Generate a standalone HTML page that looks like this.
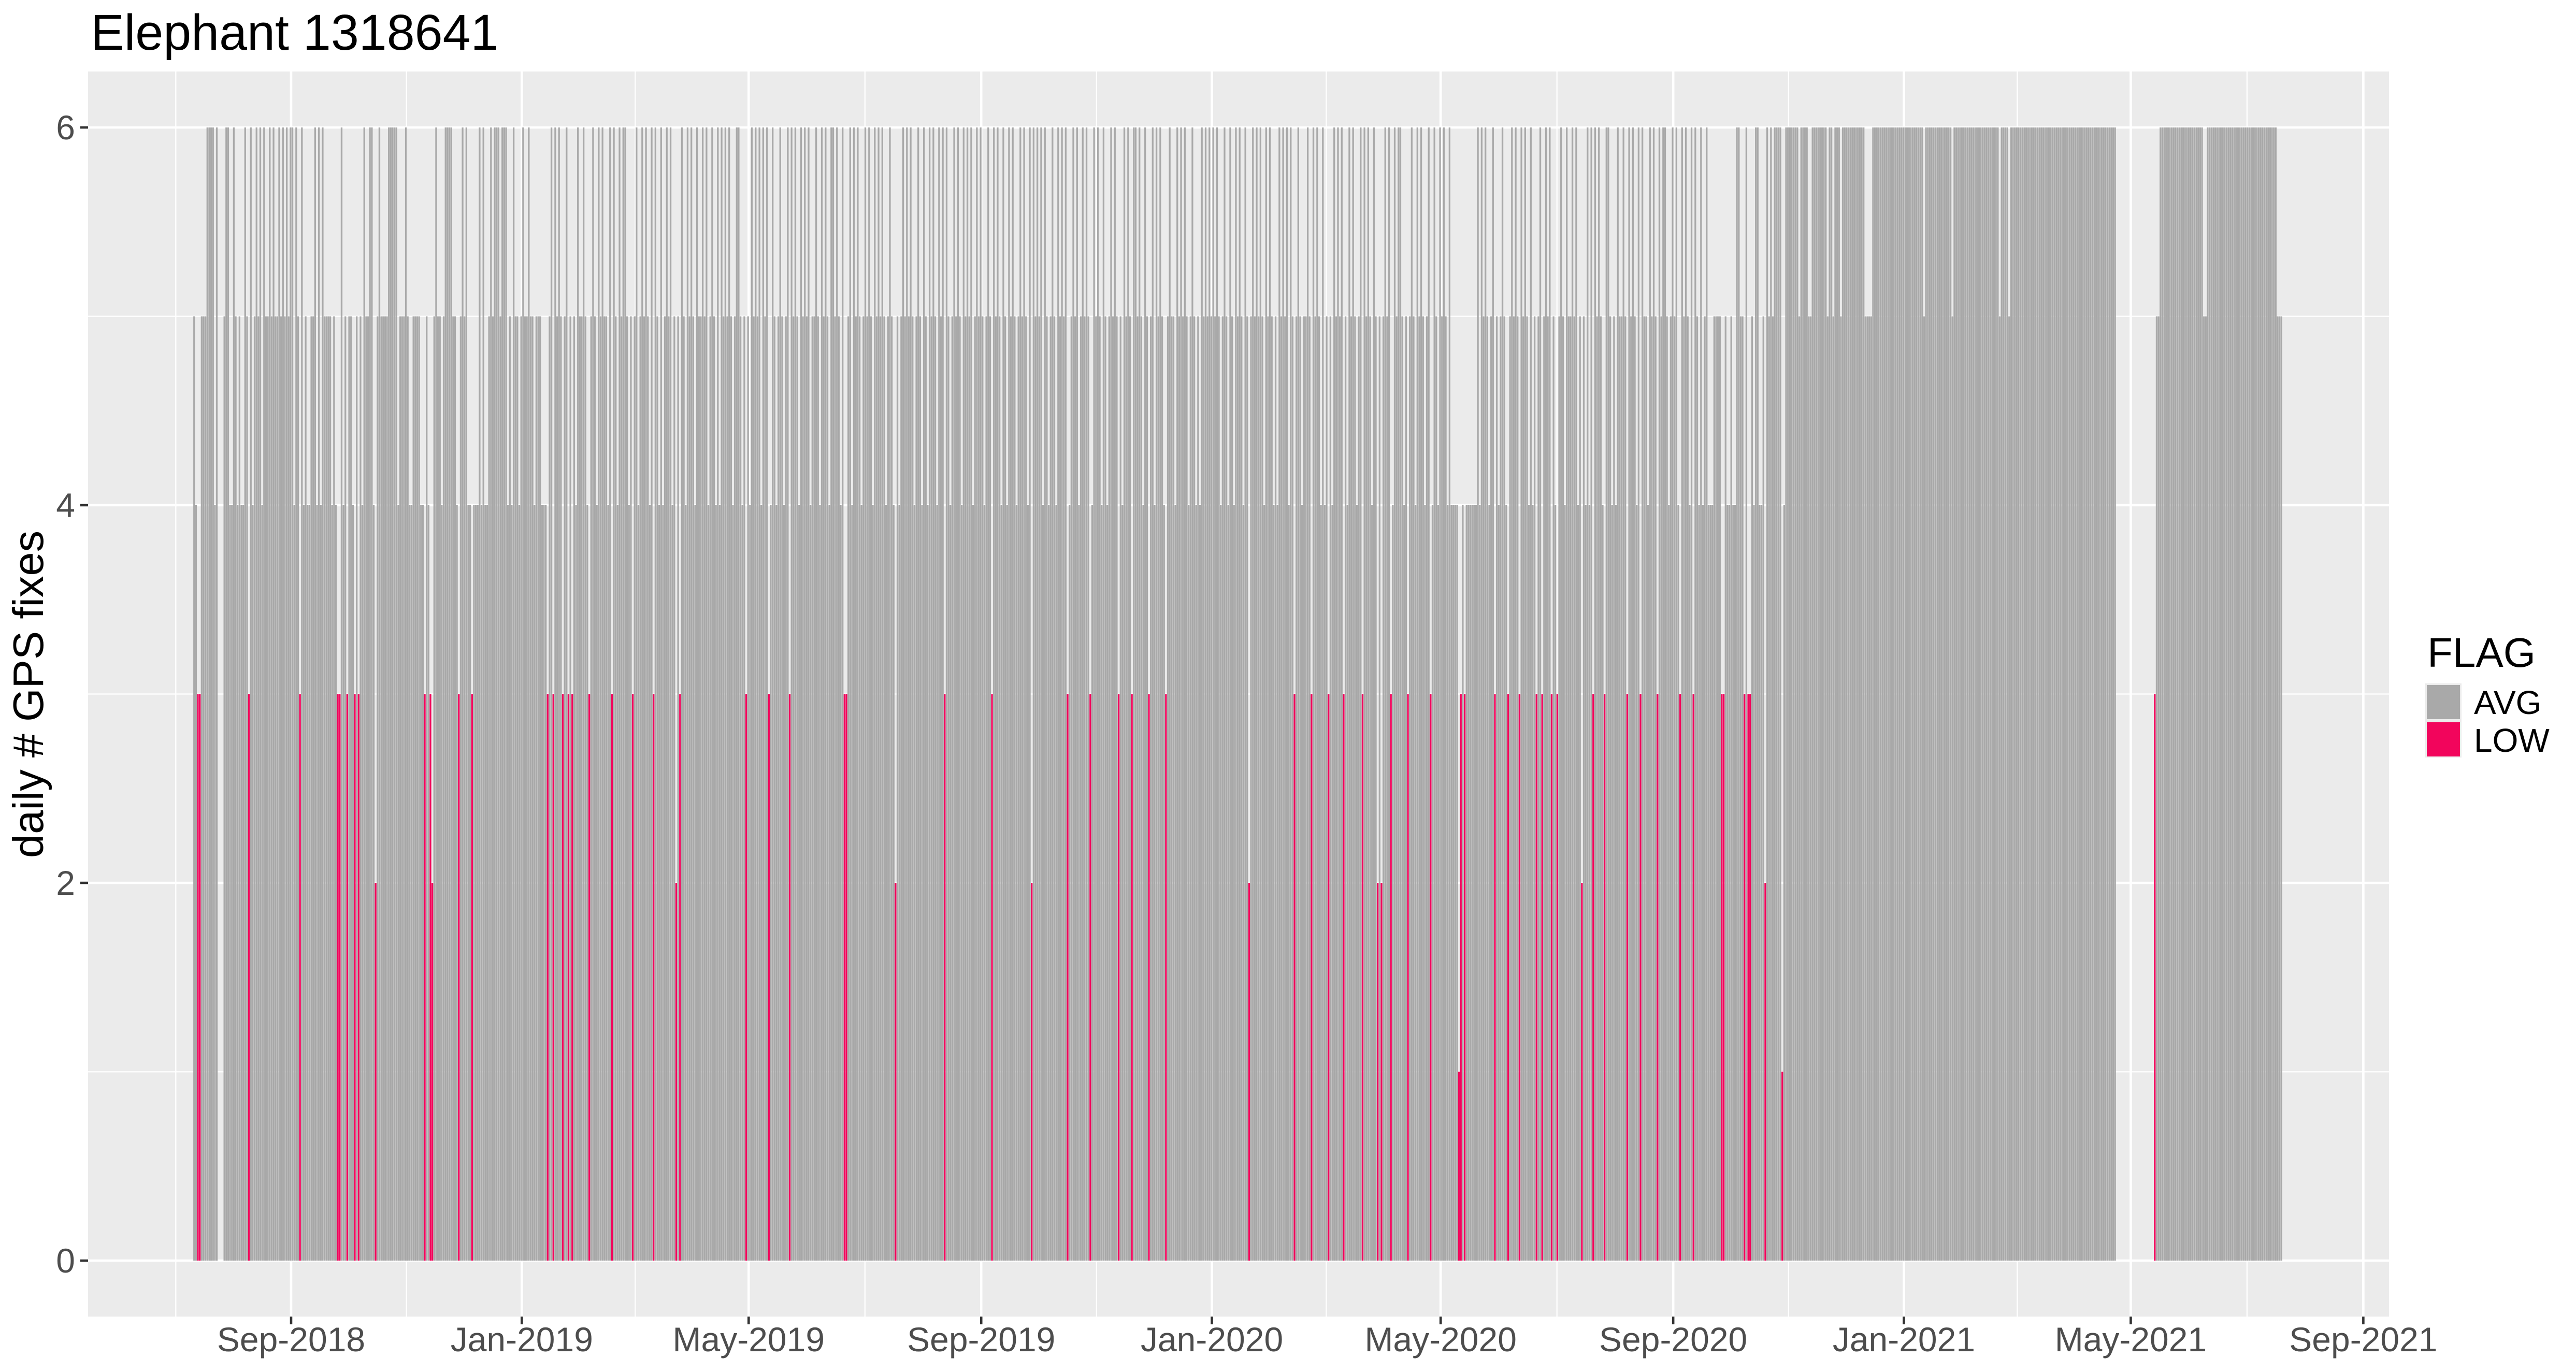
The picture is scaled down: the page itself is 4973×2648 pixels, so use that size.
<!DOCTYPE html>
<html><head><meta charset="utf-8"><title>Elephant 1318641</title>
<style>
html,body{margin:0;padding:0;background:#fff;}
svg{display:block;font-family:"Liberation Sans",Arial,sans-serif;}
</style></head>
<body>
<svg id="chart" width="4973" height="2648" viewBox="0 0 4973 2648" xmlns="http://www.w3.org/2000/svg">
  <rect x="0" y="0" width="4973" height="2648" fill="#ffffff"/>
  <text x="175" y="96" font-size="97" fill="#000">Elephant 1318641</text>
  <rect x="170" y="138" width="4442" height="2403" fill="#EBEBEB"/>
  <g id="grid"></g>
  <g id="bars"></g>
  <g id="yaxis"></g>
  <g id="xaxis"></g>
  <text transform="translate(83,1340) rotate(-90)" text-anchor="middle" font-size="83" fill="#000">daily # GPS fixes</text>
  <g>
    <text x="4686" y="1287" font-size="80" fill="#000">FLAG</text>
    <rect x="4682" y="1319" width="70" height="143" fill="#EBEBEB"/>
    <rect x="4685" y="1322" width="64" height="66" fill="#A9A9A9"/>
    <rect x="4685" y="1394" width="64" height="66" fill="#F2055C"/>
    <text x="4776" y="1378" font-size="64" fill="#000">AVG</text>
    <text x="4776" y="1451" font-size="64" fill="#000">LOW</text>
  </g>
</svg>
<script>
// ---- data (daily # GPS fixes, one digit per day, starting ~12 Jul 2018) ----
const segJul2018 = "5433555666"+"6460005664"+"4654544653"+"6456564655"+"6565565656"+"5664653645"+"4455646465"+"5554543364"+"5355435354"+"6556642565"+"5556666645"+"5565445555"+"4435432565"+"5456666554"+"3565644344"+"4646445656"+"6656664546"+"5545655655"+"45554443";
const segMid = "5646565456"+"6545465565"+"4656546565"+"5465654656"+"6545656456"+
"5654656546"+"4565645656"+"6546565465"+"5656456546"+"4656565456"+
"6545654656"+"5646565465"+"4565456565"+"6546565645"+"5654656546"+
"6565465456"+"4656545656"+"5465656545"+"6546545656"+"5654565465"+
"4656546565"+"6545656546"+"5656456565"+"4565465654"+"6546565456"+
"5654656565"+"6465456546"+"5656545656"+"4565656465"+"6546545656"+
"5654656546"+"6565465456"+"4656546565"+"5465656545"+"6545465656"+
"5656545654"+"6546565465"+"4565656546"+"5654546565"+"6465656545"+
"5654656546"+"4565465656"+"6546565456"+"5656546565"+"4565654656"+
"6545656546"+"5654565465"+"4656546444"+"4444444444"+"4646565456"+
"6545654656"+"5654656546"+"4565645656"+"6546565465"+"5656456546"+
"4656565456"+"6545465565"+"4656546565"+"5465654656"+"6545656456"+
"5654656546"+"456";
const segOct2020 = "4445555335"+"4454466553"+"6335466445"+"2656566661"+"46";
const segWinter = "6666665666"+"6556666666"+"6566566656"+"6666666666"+"6555566666"+"6666666666"+"6666666666"+"6656666666"+"6666666566"+"6666666666"+"6666666666"+"6656666566"+"6666666666"+"6666666666"+"6666666666"+"6666666666"+"6666666666"+"6666";
const segGap = "00000000000000000000";
const segMay2021 = "355"+"66666666666666666666666"+"55"+"6666666666666666666666666666666666666"+"555";
const lowIdx = [190,195,198,200,209,221,232,243,255,257,292,304,315,344,345,371,397,422,443,462,474,489,496,505,514,558,582,591,600,608,618,626,628,633,642,654,669,670,672,688,695,701,710,713,718,721,734,740,746,758,765,774,786,793];
const lowVal = [3,3,3,3,3,3,3,3,2,3,3,3,3,3,3,2,3,3,2,3,3,3,3,3,3,2,3,3,3,3,3,2,2,3,3,3,1,3,3,3,3,3,3,3,3,3,2,3,3,3,3,3,3,3];
const yTicks = [0,2,4,6];
const yMinor = [1,3,5];
const xTickLabels = ["Sep-2018","Jan-2019","May-2019","Sep-2019","Jan-2020","May-2020","Sep-2020","Jan-2021","May-2021","Sep-2021"];
const xTickDays = [0,122,242,365,487,608,731,853,973,1096]; // days since 2018-09-01
const firstDayOffset = -51.3; // first bar relative to 2018-09-01

const values = (segJul2018+segMid+segOct2020+segWinter+segGap+segMay2021).split("").map(Number);
lowIdx.forEach((d,i)=>{ values[d]=lowVal[i]; });

// ---- scales ----
const NS="http://www.w3.org/2000/svg";
const X0=562, PXDAY=3.65, PL=170, PR=4612, PT=138, PB=2541;
const Y0=2433, PXUNIT=364.5;
const xDay = d => X0 + d*PXDAY;
const xIdx = i => xDay(i + firstDayOffset);
const y = v => Y0 - v*PXUNIT;
function mk(tag, attrs, parent){ const e=document.createElementNS(NS,tag); for(const k in attrs) e.setAttribute(k,attrs[k]); parent.appendChild(e); return e; }

const grid=document.getElementById('grid');
yMinor.forEach(v=>{
  const l=mk('line',{x1:PL,x2:PR,y1:y(v),y2:y(v),stroke:'#fff','stroke-width':2.3},grid);
  
  
});
const majX=xTickDays.map(xDay);
const minX=[];
for(let i=0;i<majX.length;i++){ const prev = i===0 ? majX[0]-(majX[1]-majX[0]) : majX[i-1]; minX.push((prev+majX[i])/2); }
minX.push(majX[majX.length-1]+(majX[1]-majX[0])/2);
minX.forEach(x=>{ if(x>PL&&x<PR){
  const l=mk('line',{x1:x,x2:x,y1:PT,y2:PB,stroke:'#fff','stroke-width':2.3},grid);
  
  
}});
yTicks.forEach(v=>{
  const l=mk('line',{x1:PL,x2:PR,y1:y(v),y2:y(v),stroke:'#fff','stroke-width':4.6},grid);
  
  
});
majX.forEach(x=>{ if(x>PL&&x<PR){
  const l=mk('line',{x1:x,x2:x,y1:PT,y2:PB,stroke:'#fff','stroke-width':4.6},grid);
  
  
}});

// ---- bars ----
const bars=document.getElementById('bars');
const bw=PXDAY*0.9;
values.forEach((v,i)=>{
  if(v<=0) return;
  const low = v<=3;
  const r=mk('rect',{x:(xIdx(i)-bw/2).toFixed(2),y:y(v).toFixed(2),width:bw.toFixed(2),height:(v*PXUNIT).toFixed(2),fill:low?'#F2055C':'#A9A9A9'},bars);
  
  
});

// ---- axes ----
const ya=document.getElementById('yaxis');
yTicks.forEach(v=>{
  const t=mk('line',{x1:PL-15,x2:PL,y1:y(v),y2:y(v),stroke:'#333','stroke-width':4.6},ya);
  
  
  const lb=mk('text',{x:145,y:y(v)+23,'text-anchor':'end','font-size':66,fill:'#4D4D4D'},ya);
  lb.textContent=String(v);
  
  
});
const xa=document.getElementById('xaxis');
majX.forEach((x,i)=>{
  const t=mk('line',{x1:x,x2:x,y1:PB,y2:PB+15,stroke:'#333','stroke-width':4.6},xa);
  
  
  const lb=mk('text',{x:x,y:2608,'text-anchor':'middle','font-size':66,fill:'#4D4D4D'},xa);
  lb.textContent=xTickLabels[i];
  
  
});
</script>
</body></html>
